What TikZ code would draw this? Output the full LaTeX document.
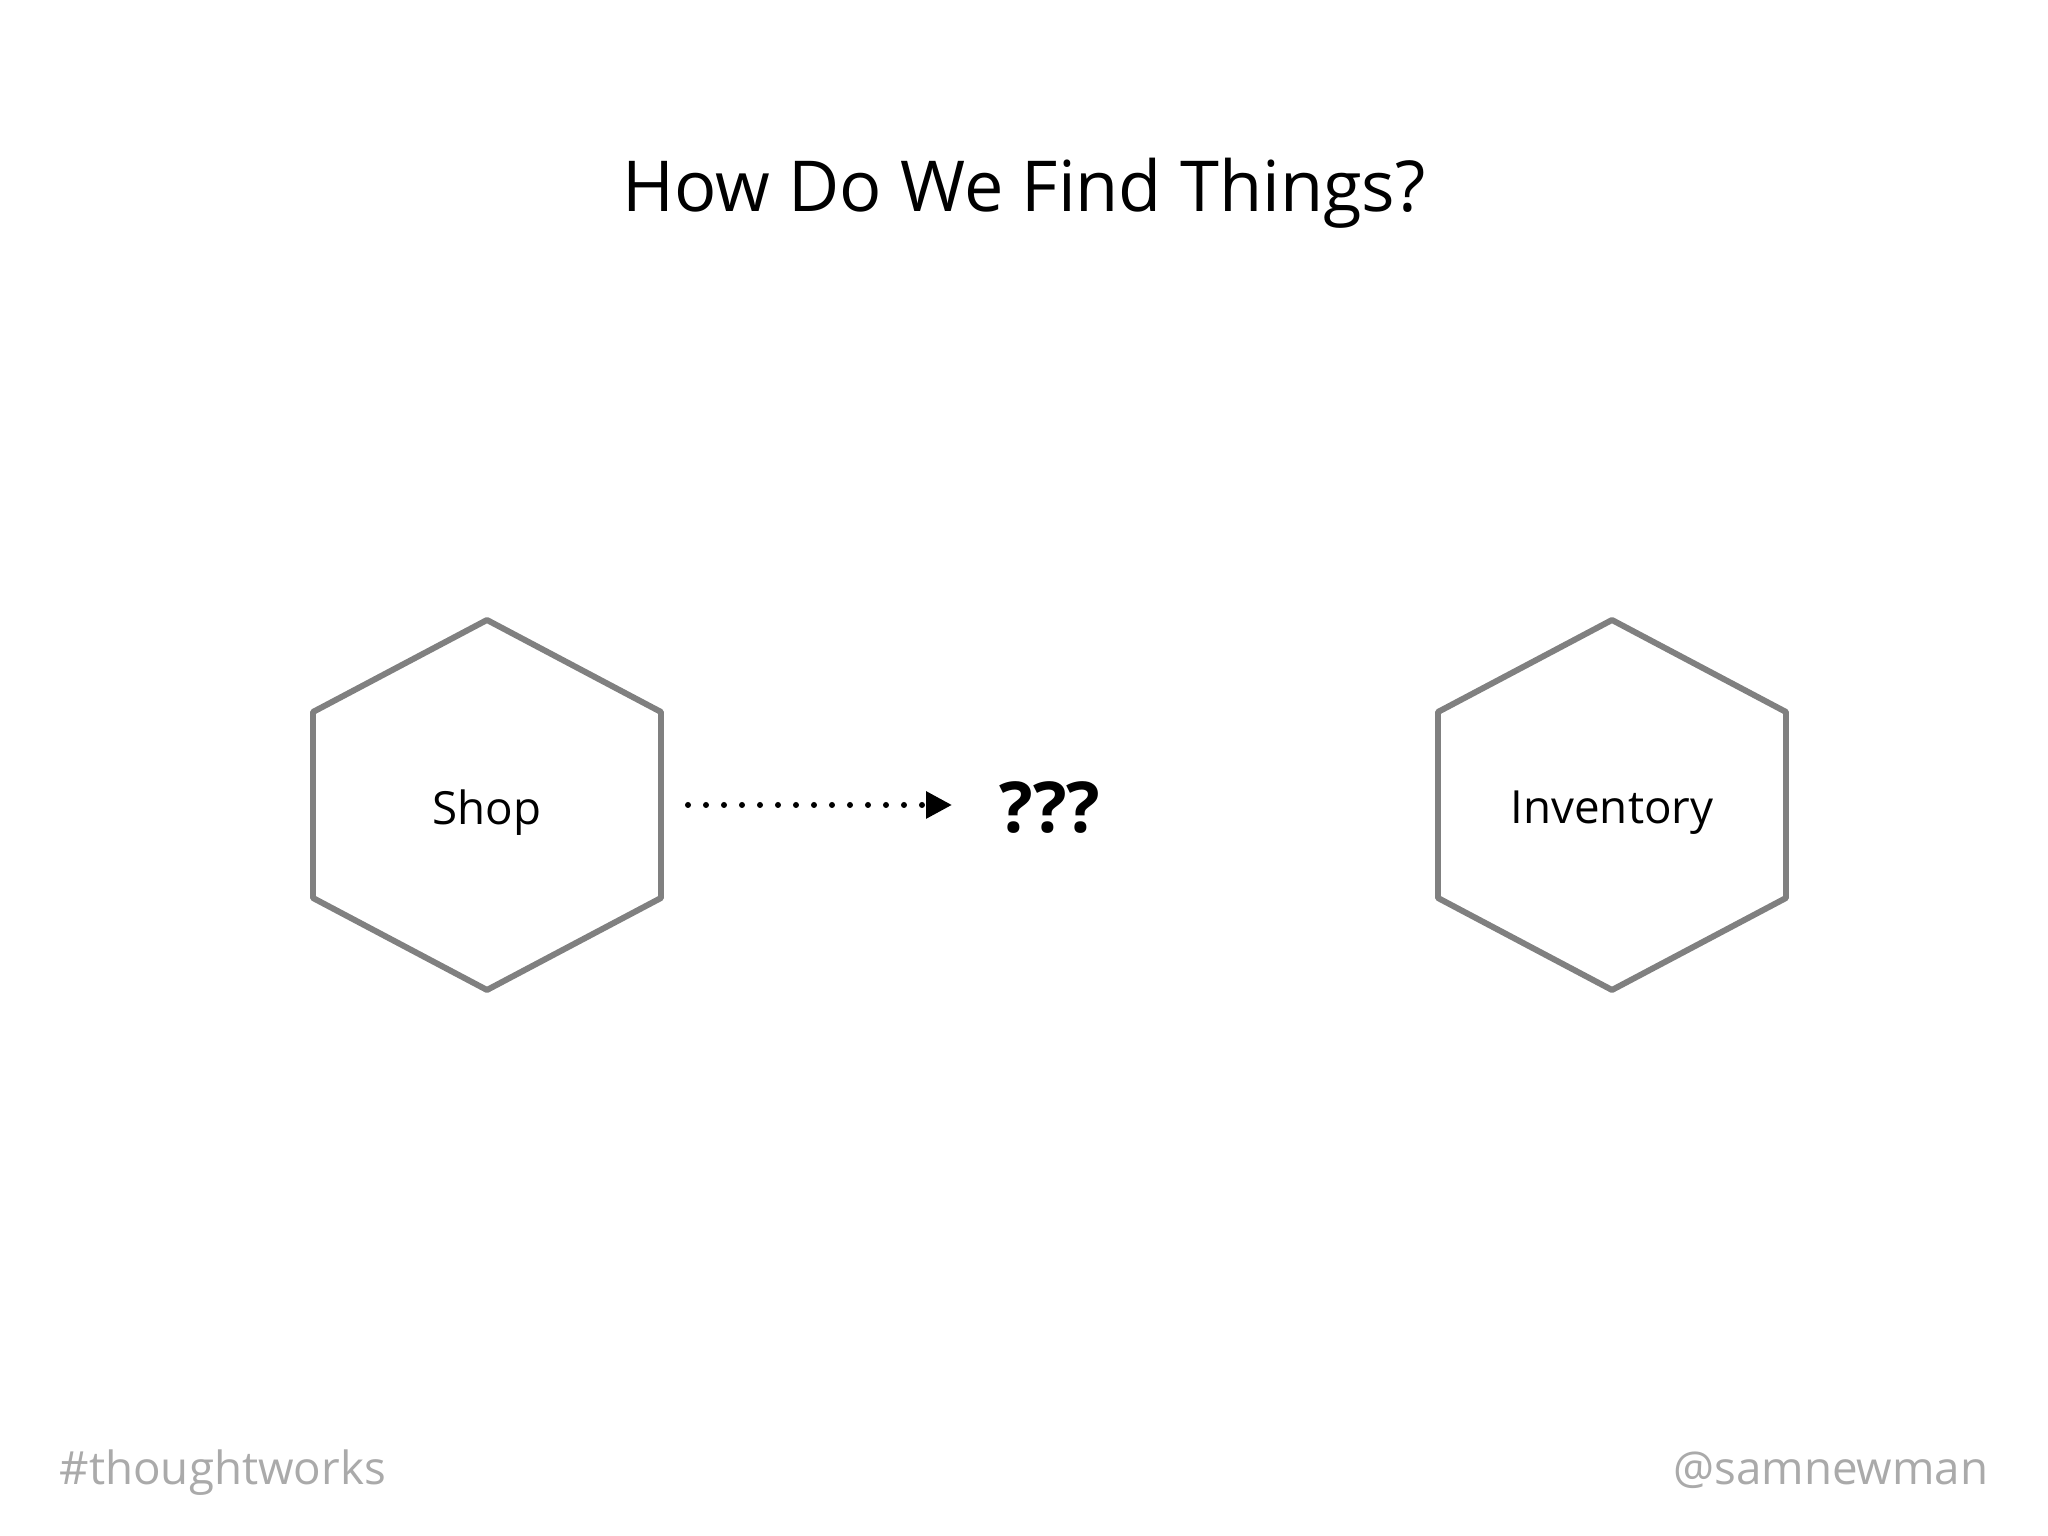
\documentclass[tikz,border=0pt]{standalone}
\usepackage{fontspec}
\setmainfont{Open Sans}
\usetikzlibrary{arrows.meta}

\definecolor{hexgray}{RGB}{128,128,128}
\definecolor{footgray}{RGB}{170,170,170}

\tikzset{
  hexline/.style = {draw = hexgray, line width = 1.7pt, line join = round},
  hextext/.style = {font = \fontsize{13}{16}\selectfont},
  footer/.style = {inner sep = 0pt, text = footgray, font = \fontsize{13}{16}\selectfont},
  dotarrow/.style = {line width = 0.06cm, line cap = round,
    dash pattern = on 0pt off 0.18cm,
    -{Triangle[length = 0.26cm, width = 0.26cm]}}
}

\begin{document}
\begin{tikzpicture}
  \useasboundingbox (0,0) rectangle (20.48,15.36);

  \node[anchor = base] (title) at (10.24,13.24)
  {\fontsize{20}{24}\selectfont How Do We Find Things?};

  \node[hextext] (shop) at (4.87,7.23) {Shop};
  \node[hextext] (inventory) at (16.12,7.23) {Inventory};

  \foreach \n in {shop, inventory}
    \draw[hexline] (\n.center) ++(0,1.93)
    -- ++(1.74,-0.92)
    -- ++(0,-1.86)
    -- ++(-1.74,-0.92)
    -- ++(-1.74,0.92)
    -- ++(0,1.86)
    -- cycle;

  \node[inner sep = 0pt, font = \bfseries\fontsize{20}{24}\selectfont]
  (unknown) at (10.50,7.285) {???};

  \coordinate (from) at (6.88,7.31);
  \draw[dotarrow, shorten > = 0.47cm] (from) -- (from -| unknown.west);

  \node[footer, anchor = base west] (tag) at (0.59,0.51) {\#thoughtworks};
  \node[footer, anchor = base east] (handle) at (19.89,0.51) {@samnewman};
\end{tikzpicture}
\end{document}
